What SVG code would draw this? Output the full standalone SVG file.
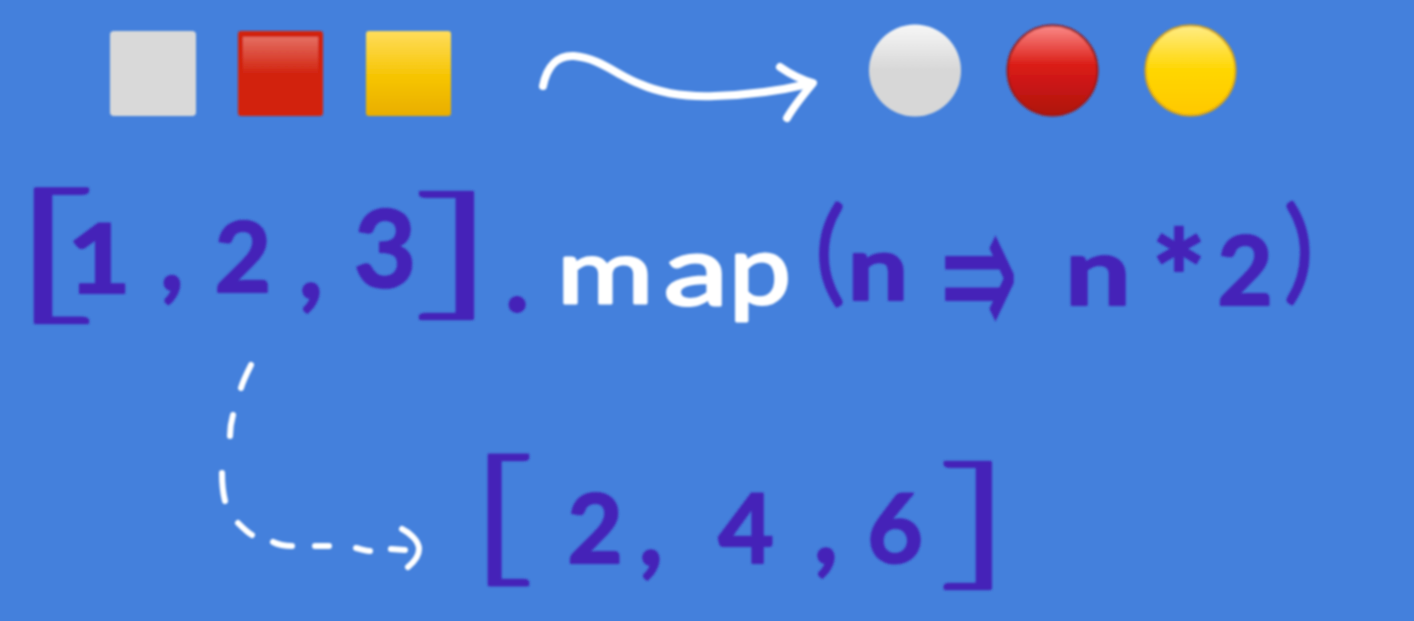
<svg xmlns="http://www.w3.org/2000/svg" width="1414" height="621" viewBox="0 0 1414 621">
<defs>
<filter id="soft" x="-5%" y="-5%" width="110%" height="110%"><feGaussianBlur stdDeviation="0.8"/></filter>
<linearGradient id="sqRed" x1="0" y1="0" x2="0" y2="1"><stop offset="0" stop-color="#E46E62"/><stop offset="0.5" stop-color="#D2230F"/><stop offset="1" stop-color="#D2230F"/></linearGradient>
<linearGradient id="sqYel" x1="0" y1="0" x2="0" y2="1"><stop offset="0" stop-color="#FFDD5C"/><stop offset="0.55" stop-color="#F6C400"/><stop offset="1" stop-color="#E9AE00"/></linearGradient>
<linearGradient id="cGray" x1="0" y1="0" x2="0" y2="1"><stop offset="0" stop-color="#F7F7F7"/><stop offset="0.5" stop-color="#D7D7D7"/><stop offset="1" stop-color="#D7D7D7"/></linearGradient>
<linearGradient id="cRed" x1="0" y1="0" x2="0" y2="1"><stop offset="0" stop-color="#FA8A88"/><stop offset="0.45" stop-color="#DA1B14"/><stop offset="1" stop-color="#AE1410"/></linearGradient>
<linearGradient id="cYel" x1="0" y1="0" x2="0" y2="1"><stop offset="0" stop-color="#FFEC85"/><stop offset="0.5" stop-color="#FFD600"/><stop offset="1" stop-color="#FFC800"/></linearGradient>
</defs>
<style>
.g{font-family:"Lato","Liberation Sans",sans-serif;font-weight:700;fill:#4523B8;text-anchor:middle;stroke:#4523B8;stroke-width:2;stroke-linejoin:round}
.w{fill:#fff;stroke:#fff;font-weight:400;stroke-width:3}
.b{font-family:"Lato","Liberation Sans",sans-serif;font-weight:300;fill:#4523B8;text-anchor:middle;stroke:#4523B8;stroke-width:2.500;stroke-linejoin:round}
.p{stroke-width:5}
.arrow{fill:none;stroke:#fff;stroke-linecap:round;stroke-linejoin:round}
</style>
<rect width="1414" height="621" fill="#4480DC"/>
<g filter="url(#soft)">
<g id="square-gray"><rect x="110" y="31" width="86" height="85" rx="4" fill="#D9D9D9"/></g>
<g id="square-red"><rect x="238" y="31" width="85" height="85" rx="3" fill="#D2230F"/><rect x="243" y="37" width="75" height="74" fill="url(#sqRed)"/></g>
<g id="square-yellow"><rect x="366" y="31" width="85" height="85" rx="3" fill="url(#sqYel)"/></g>
<g id="circle-gray"><circle cx="915" cy="70.500" r="46" fill="url(#cGray)"/></g>
<g id="circle-red"><circle cx="1052.500" cy="70.500" r="45" fill="url(#cRed)" stroke="#9E1A1A" stroke-width="2"/></g>
<g id="circle-yellow"><circle cx="1190.500" cy="70.500" r="45" fill="url(#cYel)" stroke="#D8A41A" stroke-width="2"/></g>
<g id="connectors">
<path class="arrow" stroke-width="8" d="M543 86C547 66 558 55 574 56C600 58 618 76 640 84C665 95 690 97 715 96C745 95 775 92 808 84"/>
<path class="arrow" stroke-width="8" d="M780 67C790 74 802 80 813 83C803 95 794 106 787 118"/>
<path class="arrow" stroke-width="6" d="M251 365C247 373 243 381 241 388M233 415C231 422 230 429 230 436M222 473C222 483 223 493 225 501M238 523C242 527 247 532 252 535M273 542C279 545 285 546 292 546M315 546L329 546M356 548C361 549 365 551 370 551M391 549L405 550"/>
<path class="arrow" stroke-width="6" d="M402 529C410 533 419 541 419 549C419 556 414 562 408 567"/>
</g>
<g id="source-array">
<text class="b" transform="translate(51.500,303) scale(2.4,1.16)" font-size="130">[</text>
<text class="g" transform="translate(99,293) scale(1.15,1)" font-size="96">1</text>
<text class="g" x="172" y="290" font-size="100">,</text>
<text class="g" x="243" y="292" font-size="98">2</text>
<text class="g" x="311" y="298" font-size="104">,</text>
<text class="g" x="385" y="287" font-size="108">3</text>
<text class="b" transform="translate(456.500,300) scale(2.4,1.095)" font-size="130">]</text>
</g>
<g id="map-call">
<text class="g" x="517" y="311" font-size="100">.</text>
<text class="g w" transform="translate(605,303) scale(1.3,1)" font-size="90">m</text>
<text class="g w" transform="translate(696,305) scale(1.35,1)" font-size="96">a</text>
<text class="g w" transform="translate(760,304) scale(1.15,1)" font-size="96">p</text>
<text class="b p" transform="translate(830,290)" font-size="112">(</text>
<text class="g" transform="translate(878,300) scale(1.2,1)" font-size="90">n</text>
<text font-family="DejaVu Sans, sans-serif" font-weight="400" fill="#4523B8" text-anchor="middle" stroke="#4523B8" stroke-width="1" transform="translate(979,339) scale(1,2.1)" font-size="92">⇒</text>
<text class="g" transform="translate(1098,305) scale(1.25,1)" font-size="94">n</text>
<text class="g" x="1179" y="326" font-size="130">*</text>
<text class="g" x="1245" y="305" font-size="96">2</text>
<text class="b p" transform="translate(1299,288)" font-size="110">)</text>
</g>
<g id="result-array">
<text class="b" transform="translate(501,566) scale(1.8,1.12)" font-size="130">[</text>
<text class="g" x="595" y="563" font-size="96">2</text>
<text class="g" x="651" y="565" font-size="104">,</text>
<text class="g" x="746" y="563" font-size="96">4</text>
<text class="g" x="826" y="563" font-size="104">,</text>
<text class="g" x="895" y="563" font-size="96">6</text>
<text class="b" transform="translate(976.500,570) scale(2.1,1.095)" font-size="130">]</text>
</g>
</g>
</svg>
